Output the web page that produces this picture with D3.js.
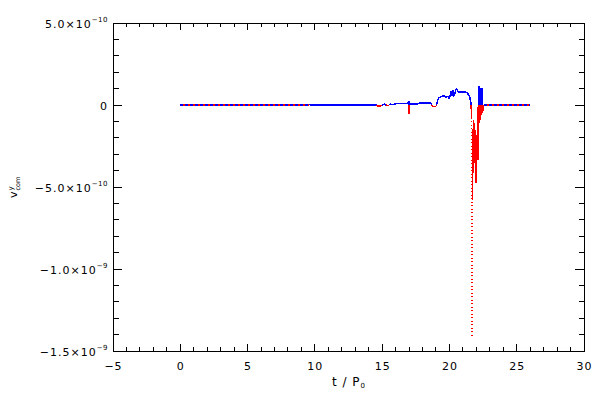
<!DOCTYPE html>
<html>
<head>
<meta charset="utf-8">
<script src="https://cdn.jsdelivr.net/npm/d3@7"></script>
<style>
  html, body { margin: 0; padding: 0; background: #fff; }
  svg { display: block; }
  text { font-family: "DejaVu Sans", sans-serif; fill: #000; }
</style>
</head>
<body>
<svg id="chart" width="600" height="400"></svg>
<script>
// ---- data (t in units of P0, v in units of 1e-10) ----
const tValues = [0, 9.6, 9.65, 14.6, 14.65, 14.95, 15.0, 15.2, 15.25, 15.45, 15.5, 15.65, 15.7, 15.95, 16.05,
  16.9, 16.99, 17.0, 17.03, 17.08, 17.66, 17.73, 18.65, 18.7, 19.03, 19.07, 19.15, 19.29, 19.44, 19.59,
  19.74, 19.89, 19.97, 20.04, 20.12, 20.19, 20.24, 20.31, 20.41, 20.48, 20.56, 20.63, 21.15, 21.30,
  21.45, 21.52, 21.60, 21.65, 21.69, 21.72, 21.74, 21.78, 21.82, 21.86, 21.89, 21.94, 21.99, 22.03,
  22.07, 22.10, 22.12, 22.15, 22.18, 22.21, 22.24, 22.27, 22.30, 22.33, 22.36, 22.39, 22.42, 22.44,
  22.47, 22.51, 22.56, 26.0];
const vValues = [0, 0, 0.005, 0.005, -0.05, -0.05, 0.005, 0.05, 0.005, -0.04, 0.005, 0.06, 0.005, 0.06, 0.08,
  0.08, 0.26, -0.55, 0.06, 0.06, 0.06, 0.12, 0.12, -0.08, -0.08, 0.12, 0.37, 0.49, 0.51, 0.57,
  0.49, 0.51, 0.37, 0.51, 0.87, 0.57, 0.93, 0.51, 0.73, 0.98, 0.99, 0.79, 0.79, 0.75,
  0.60, 0.45, 0.14, -0.77, -14.07, -5.78, -3.46, -0.90, -3.52, -1.08, -3.34, -1.51, -4.74, -1.81,
  -2.73, -0.10, -3.34, -0.29, -1.08, 1.18, -1.08, 1.06, -0.90, 1.06, -0.59, 1.06, -0.47, 1.06,
  -0.41, -0.29, 0, 0];
const vScale = 1e-10;

const xDomain = [-5, 30];
const yDomain = [-1.5e-9, 5e-10];
const xMajorTicks = [-5, 0, 5, 10, 15, 20, 25, 30];
const xTickLabels = ["\u22125", "0", "5", "10", "15", "20", "25", "30"];
const yMajorTicks = [5e-10, 0, -5e-10, -1e-9, -1.5e-9];
const yTickMantissa = ["5.0\u00d710", "0", "\u22125.0\u00d710", "\u22121.0\u00d710", "\u22121.5\u00d710"];
const yTickExponent = ["\u221210", "", "\u221210", "\u22129", "\u22129"];

// ---- layout ----
const L = 113, R = 584, T = 23, B = 351;
const svg = d3.select("#chart");
const x = d3.scaleLinear().domain(xDomain).range([L, R]);
const y = d3.scaleLinear().domain(yDomain).range([B, T]);

const xMinor = d3.range(xDomain[0], xDomain[1] + 0.001, 1);
const yMinor = d3.range(-15, 5.001, 1).map(d => d * 1e-10);

const axes = svg.append("g").attr("shape-rendering", "crispEdges").attr("stroke", "#000").attr("stroke-width", 1);
axes.append("rect").attr("x", L).attr("y", T).attr("width", R - L).attr("height", B - T).attr("fill", "none");

const xMaj = new Set(xMajorTicks);
xMinor.forEach(v => {
  const len = xMaj.has(Math.round(v)) ? 7 : 4;
  axes.append("line").attr("x1", x(v)).attr("x2", x(v)).attr("y1", B).attr("y2", B - len);
  axes.append("line").attr("x1", x(v)).attr("x2", x(v)).attr("y1", T).attr("y2", T + len);
});
yMinor.forEach(v => {
  const major = Math.abs(Math.round(v / 1e-10)) % 5 === 0;
  const len = major ? 9 : 5.5;
  axes.append("line").attr("y1", y(v)).attr("y2", y(v)).attr("x1", L).attr("x2", L + len);
  axes.append("line").attr("y1", y(v)).attr("y2", y(v)).attr("x1", R).attr("x2", R - len);
});

// x tick labels
svg.append("g").selectAll("text").data(xMajorTicks).join("text")
  .attr("x", d => x(d) + 0.5).attr("y", 369.5)
  .attr("text-anchor", "middle").attr("font-size", 11).attr("letter-spacing", 1)
  .text((d, i) => xTickLabels[i]);

// y tick labels
const yl = svg.append("g").selectAll("text").data(yMajorTicks).join("text")
  .attr("x", 108).attr("y", d => y(d) + 4.5)
  .attr("text-anchor", "end").attr("font-size", 11).attr("letter-spacing", 1);
yl.append("tspan").text((d, i) => yTickMantissa[i]);
yl.append("tspan").attr("dy", -6).attr("font-size", 7).attr("letter-spacing", 0.5)
  .text((d, i) => yTickExponent[i]);

// x title
const xt = svg.append("text").attr("x", (L + R) / 2).attr("y", 385.5)
  .attr("text-anchor", "middle").attr("font-size", 12).attr("letter-spacing", 1);
xt.append("tspan").text("t  /  P");
xt.append("tspan").attr("dy", 2.5).attr("font-size", 7).attr("letter-spacing", 0).text("0");

// y title (rotated, superscript y stacked over subscript com)
const yt = svg.append("g").attr("transform", "translate(17," + ((T + B) / 2) + ") rotate(-90)");
yt.append("text").attr("x", -11).attr("y", 0).attr("font-size", 11).text("v");
yt.append("text").attr("x", -3.5).attr("y", -4).attr("font-size", 7).text("y");
yt.append("text").attr("x", -3.5).attr("y", 3).attr("font-size", 6.5).text("com");

// ---- data line, coloured by sign ----
const pts = tValues.map((t, i) => ({ t: t, v: vValues[i] * vScale }));
const segs = [];
for (let i = 0; i < pts.length - 1; i++) {
  const a = pts[i], b = pts[i + 1];
  if (a.v === 0 && b.v === 0) { segs.push({ a, b, kind: "zero" }); continue; }
  if (a.v * b.v < 0) {
    const tc = a.t + (b.t - a.t) * a.v / (a.v - b.v);
    const c = { t: tc, v: 0 };
    segs.push({ a, b: c, kind: a.v > 0 ? "pos" : "neg" });
    segs.push({ a: c, b, kind: b.v > 0 ? "pos" : "neg" });
  } else {
    const s = a.v !== 0 ? a.v : b.v;
    segs.push({ a, b, kind: s > 0 ? "pos" : "neg" });
  }
}
const line = d3.line().x(d => x(d.t)).y(d => y(d.v));
const dataG = svg.append("g").attr("fill", "none").attr("stroke-width", 1.5)
  .attr("shape-rendering", "crispEdges");
segs.forEach(s => {
  const d = line([s.a, s.b]);
  if (s.kind === "zero") {
    dataG.append("path").attr("d", d).attr("stroke", "#ff0000");
    dataG.append("path").attr("d", d).attr("stroke", "#0000ff").attr("stroke-dasharray", "3,2");
  } else {
    const steep = Math.abs(y(s.a.v) - y(s.b.v)) > 100;
    const p = dataG.append("path").attr("d", d)
      .attr("stroke", s.kind === "pos" ? "#0000ff" : "#ff0000");
    if (steep) p.attr("stroke-dasharray", "1,2.5");
  }
});
</script>
</body>
</html>
